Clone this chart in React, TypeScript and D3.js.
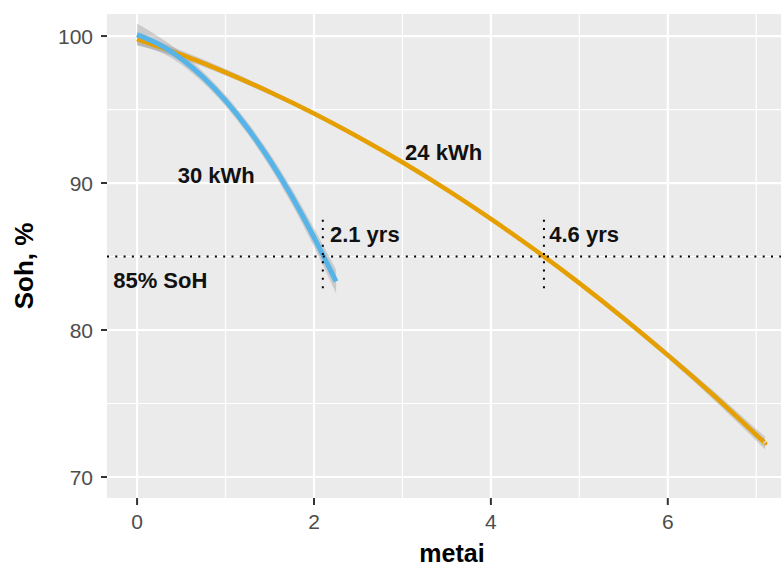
import * as d3 from "d3";

const blueX = [0, 0.25, 0.5, 0.75, 1, 1.25, 1.5, 1.75, 2, 2.25];
const blueY = [100.1, 99.43, 98.46, 97.18, 95.61, 93.73, 91.56, 89.08, 86.3, 83.3];
const blueSe = [0.75, 0.5, 0.4, 0.38, 0.38, 0.4, 0.45, 0.52, 0.62, 0.8];

const orangeX = [0, 0.5, 1, 1.5, 2, 2.5, 3, 3.5, 4, 4.5, 5, 5.5, 6, 6.5, 7, 7.1];
const orangeY = [99.8, 98.73, 97.53, 96.19, 94.73, 93.13, 91.41, 89.55, 87.56, 85.44, 83.19, 80.8, 78.29, 75.65, 72.87, 72.3];
const orangeSe = [0.4, 0.28, 0.22, 0.18, 0.16, 0.14, 0.13, 0.13, 0.13, 0.14, 0.15, 0.18, 0.22, 0.3, 0.4, 0.45];

const xTicks = [0, 2, 4, 6];
const xMinor = [1, 3, 5, 7];
const yTicks = [70, 80, 90, 100];
const yMinor = [75, 85, 95];

const sohLimit = 85;
const crossings = [2.1, 4.6];
const crossSpan = [82.7, 87.5];

const labels = [
  { text: "30 kWh", x: 0.46, y: 90 },
  { text: "24 kWh", x: 3.03, y: 91.6 },
  { text: "2.1 yrs", x: 2.18, y: 86.0 },
  { text: "4.6 yrs", x: 4.66, y: 86.0 },
  { text: "85% SoH", x: -0.27, y: 82.85 },
];

const W = 781;
const H = 570;
const panel = { left: 107, right: 781, top: 14, bottom: 498 };

export default function App() {
  const x = d3.scaleLinear().domain([-0.34, 7.28]).range([panel.left, panel.right]);
  const y = d3.scaleLinear().domain([68.57, 101.5]).range([panel.bottom, panel.top]);

  const line = d3.line<[number, number]>()
    .x((d) => x(d[0]))
    .y((d) => y(d[1]))
    .curve(d3.curveNatural);

  const area = d3.area<[number, number, number]>()
    .x((d) => x(d[0]))
    .y0((d) => y(d[1] - d[2]))
    .y1((d) => y(d[1] + d[2]))
    .curve(d3.curveNatural);

  const blue = blueX.map((v, i) => [v, blueY[i], blueSe[i]] as [number, number, number]);
  const orange = orangeX.map((v, i) => [v, orangeY[i], orangeSe[i]] as [number, number, number]);

  const font = "'Liberation Sans', Arial, Helvetica, sans-serif";

  return (
    <>
      <style>{`body{margin:0}`}</style>
      <svg width={W} height={H} style={{ display: "block", background: "#fff" }}>
        <rect x={panel.left} y={panel.top} width={panel.right - panel.left} height={panel.bottom - panel.top} fill="#EBEBEB" />

        {/* grid */}
        {xMinor.map((t) => (
          <line key={"xm" + t} x1={x(t)} x2={x(t)} y1={panel.top} y2={panel.bottom} stroke="#fff" strokeWidth={1.2} />
        ))}
        {yMinor.map((t) => (
          <line key={"ym" + t} x1={panel.left} x2={panel.right} y1={y(t)} y2={y(t)} stroke="#fff" strokeWidth={1.2} />
        ))}
        {xTicks.map((t) => (
          <line key={"xg" + t} x1={x(t)} x2={x(t)} y1={panel.top} y2={panel.bottom} stroke="#fff" strokeWidth={2.2} />
        ))}
        {yTicks.map((t) => (
          <line key={"yg" + t} x1={panel.left} x2={panel.right} y1={y(t)} y2={y(t)} stroke="#fff" strokeWidth={2.2} />
        ))}

        {/* ribbons + fits */}
        <path d={area(orange) ?? ""} fill="#999999" opacity={0.4} />
        <path d={area(blue) ?? ""} fill="#999999" opacity={0.4} />
        <path d={line(orange.map((d) => [d[0], d[1]])) ?? ""} fill="none" stroke="#E69F00" strokeWidth={4.5} />
        <path d={line(blue.map((d) => [d[0], d[1]])) ?? ""} fill="none" stroke="#56B4E9" strokeWidth={5} />

        {/* 85% reference */}
        <line x1={panel.left} x2={panel.right} y1={y(sohLimit)} y2={y(sohLimit)} stroke="#000" strokeWidth={2} strokeDasharray="2 6.3" />
        {crossings.map((c) => (
          <line key={"c" + c} x1={x(c)} x2={x(c)} y1={y(crossSpan[1])} y2={y(crossSpan[0])} stroke="#000" strokeWidth={2} strokeDasharray="2 6.3" />
        ))}

        {labels.map((l) => (
          <text key={l.text} x={x(l.x)} y={y(l.y)} fontFamily={font} fontWeight="bold" fontSize={22} fill="#111">
            {l.text}
          </text>
        ))}

        {/* axes */}
        {yTicks.map((t) => (
          <g key={"yt" + t}>
            <line x1={panel.left - 6} x2={panel.left} y1={y(t)} y2={y(t)} stroke="#333" strokeWidth={2} />
            <text x={panel.left - 14} y={y(t)} dy="0.36em" textAnchor="end" fontFamily={font} fontSize={21} fill="#4D4D4D">
              {t}
            </text>
          </g>
        ))}
        {xTicks.map((t) => (
          <g key={"xt" + t}>
            <line x1={x(t)} x2={x(t)} y1={panel.bottom} y2={panel.bottom + 7} stroke="#333" strokeWidth={2} />
            <text x={x(t)} y={panel.bottom + 31} textAnchor="middle" fontFamily={font} fontSize={21} fill="#4D4D4D">
              {t}
            </text>
          </g>
        ))}

        <text x={452} y={562} textAnchor="middle" fontFamily={font} fontWeight="bold" fontSize={25} fill="#000">
          metai
        </text>
        <text transform="translate(33,266) rotate(-90)" textAnchor="middle" fontFamily={font} fontWeight="bold" fontSize={26} fill="#000">
          Soh, %
        </text>
      </svg>
    </>
  );
}
